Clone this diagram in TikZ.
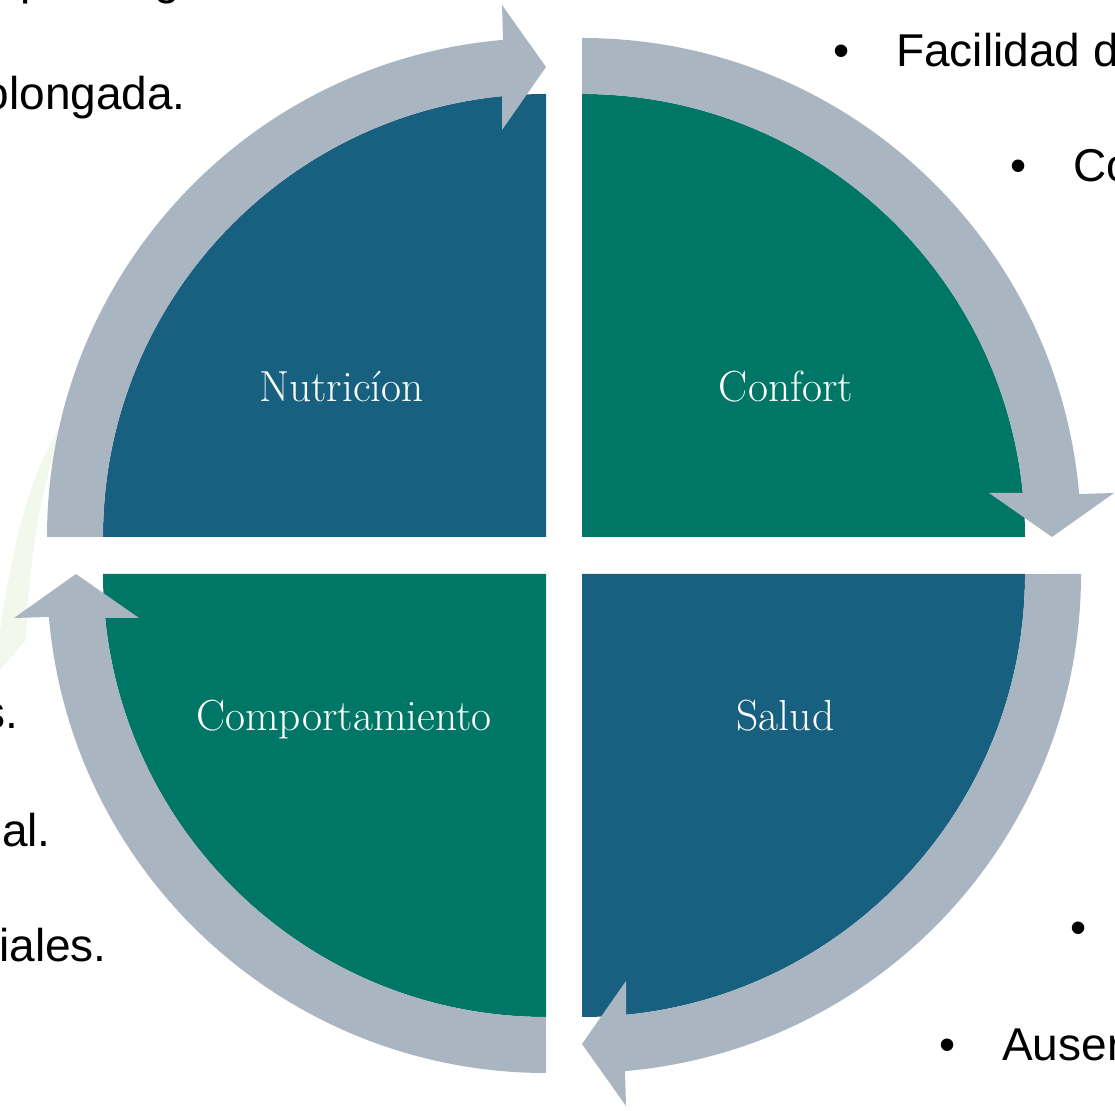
\documentclass[tikz,border=0pt]{standalone}
\usepackage{fontspec}
\newfontfamily\arialf{Liberation Sans}
\definecolor{secblue}{RGB}{23,96,128}
\definecolor{secgreen}{RGB}{0,118,102}
\definecolor{ringgray}{RGB}{170,181,194}
\definecolor{leafgreen}{RGB}{242,248,236}
\tikzset{
  sector/.style={draw=none},
  ringarrow/.style={fill=ringgray, draw=none},
  lbl/.style={text=white, inner sep=0pt, anchor=base, font=\fontsize{43.5}{45}\selectfont\addfontfeature{LetterSpace=6}},
  bgtext/.style={text=black, inner sep=0pt, font=\arialf\fontsize{46}{50}\selectfont},
}
\newcommand{\ringarrowpath}{%
  \fill[ringarrow] (-499,0) arc[start angle=180, end angle=94.94, radius=499pt]
    -- (-44,532) -- (0,470) -- (-44,407) -- (-44,440.8)
    arc[start angle=95.70, end angle=180, radius=443pt] -- cycle;}
\begin{document}
\begin{tikzpicture}[x=1pt,y=1pt]
\useasboundingbox (0,0) rectangle (1115,1110);
% faint leaf watermark
\fill[leafgreen] (0,480) .. controls (14,570) and (30,640) .. (66,692)
   .. controls (40,620) and (30,560) .. (26,470) -- (0,440) -- cycle;
% corners
\coordinate (ctl) at (546,573);
\coordinate (ctr) at (582,573);
\coordinate (cbl) at (546,536);
\coordinate (cbr) at (582,536);
% sectors
\fill[secblue]  (ctl) -- ++(180:443) arc[start angle=180, end angle=90, radius=443pt] -- cycle;
\fill[secgreen] (ctr) -- ++(90:443) arc[start angle=90, end angle=0, radius=443pt] -- cycle;
\fill[secgreen] (cbl) -- ++(270:443) arc[start angle=270, end angle=180, radius=443pt] -- cycle;
\fill[secblue]  (cbr) -- ++(0:443) arc[start angle=360, end angle=270, radius=443pt] -- cycle;
% ring arrows
\begin{scope}[shift={(ctl)}]\ringarrowpath\end{scope}
\begin{scope}[shift={(ctr)}, rotate=-90]\ringarrowpath\end{scope}
\begin{scope}[shift={(cbr)}, rotate=-180]\ringarrowpath\end{scope}
\begin{scope}[shift={(cbl)}, rotate=90]\ringarrowpath\end{scope}
% labels
\node[lbl] (nut) at (341.5,708) {Nutricíon};
\node[lbl] (con) at (786,708) {Confort};
\node[lbl] (com) at (344,379) {Comportamiento};
\node[lbl] (sal) at (785.5,379) {Salud};
% background text fragments
\node[bgtext, anchor=base west] (tp) at (20,1115) {p};
\node[bgtext, anchor=base west] (tg) at (154,1115) {g};
\node[bgtext, anchor=base east] (t1) at (186,1000) {prolongada.};
\node[bgtext, anchor=base east] (t2) at (18,381) {s.};
\node[bgtext, anchor=base east] (t3) at (51,263) {nal.};
\node[bgtext, anchor=base east] (t4) at (107,148) {ciales.};
\node[bgtext, anchor=base] (b1) at (842,1043) {•};
\node[bgtext, anchor=base west] (r1) at (896,1043) {Facilidad d};
\node[bgtext, anchor=base] (b2) at (1019,928) {•};
\node[bgtext, anchor=base west] (r2) at (1073,928) {Co};
\node[bgtext, anchor=base] (b3) at (1079,166) {•};
\node[bgtext, anchor=base] (b4) at (948,50) {•};
\node[bgtext, anchor=base west] (r4) at (1002,50) {Auser};
\end{tikzpicture}
\end{document}
